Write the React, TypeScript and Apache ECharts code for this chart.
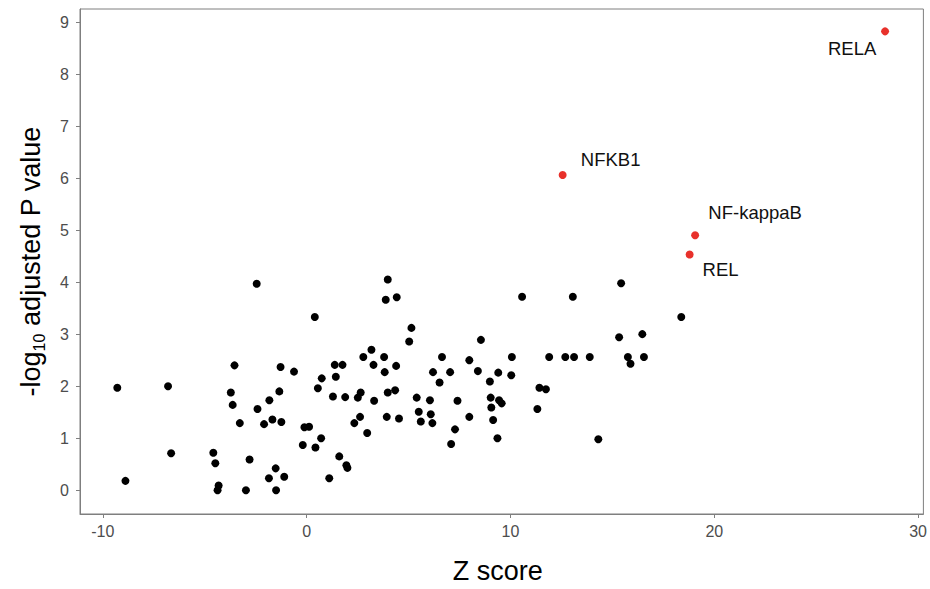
import React, { useEffect, useRef } from "react";
import * as echarts from "echarts";

const blackX = [
  -2.45, -3.54, -1.28, -0.62, -9.29, -6.8, -3.72, -1.34, -1.83, -3.63, -2.41, -3.28, -2.09, -1.68, -1.24,
  -0.11, 0.12, -0.19, -6.65, -4.58, -4.48, -2.8, -1.52, -1.85, -1.1, -8.89, -4.32, -4.37, -2.98, -1.5,
  3.98, 3.88, 4.42, 0.4, 5.14, 5.03, 8.55, 3.18, 2.78, 3.8, 3.28, 4.39, 3.83, 1.38, 1.76, 1.43, 0.74, 0.55,
  1.29, 1.89, 2.51, 2.65, 3.31, 3.98, 4.34, 5.4, 6.05, 6.64, 6.2, 7.04, 6.52, 7.98, 8.4, 9.4, 8.99, 7.4,
  9.03, 9.06, 9.44, 9.57, 9.15, 9.36, 7.98, 7.28, 7.09, 5.5, 5.6, 6.09, 6.17, 3.93, 4.53, 2.62, 2.34, 2.97,
  0.71, 0.43, 1.6, 1.95, 2.0, 1.11, 15.43, 10.57, 13.06, 18.38, 15.33, 16.47, 10.07, 11.9, 12.69, 13.12,
  13.89, 15.76, 15.89, 16.55, 10.04, 11.42, 11.74, 11.32, 14.31,
];
const blackY = [
  3.98, 2.41, 2.38, 2.29, 1.98, 2.01, 1.89, 1.91, 1.74, 1.65, 1.57, 1.3, 1.28, 1.37, 1.32,
  1.22, 1.23, 0.88, 0.72, 0.73, 0.53, 0.6, 0.43, 0.24, 0.27, 0.19, 0.1, 0.01, 0.01, 0.01,
  4.06, 3.67, 3.72, 3.34, 3.13, 2.87, 2.9, 2.71, 2.57, 2.57, 2.42, 2.4, 2.28, 2.42, 2.42, 2.19, 2.16, 1.97,
  1.81, 1.8, 1.79, 1.89, 1.73, 1.89, 1.93, 1.79, 1.74, 2.57, 2.28, 2.28, 2.08, 2.51, 2.3, 2.27, 2.1, 1.73,
  1.79, 1.6, 1.74, 1.68, 1.36, 1.01, 1.42, 1.18, 0.9, 1.52, 1.33, 1.47, 1.3, 1.42, 1.39, 1.42, 1.3, 1.11,
  1.01, 0.83, 0.66, 0.49, 0.44, 0.24, 3.99, 3.73, 3.73, 3.34, 2.95, 3.01, 2.57, 2.57, 2.57, 2.57,
  2.57, 2.57, 2.44, 2.57, 2.22, 1.98, 1.95, 1.57, 0.99,
];

const redNames = ["RELA", "NFKB1", "NF-kappaB", "REL"];
const redX = [28.38, 12.56, 19.06, 18.79];
const redY = [8.83, 6.07, 4.91, 4.54];

const xTicks = [-10, 0, 10, 20, 30];
const yTicks = [0, 1, 2, 3, 4, 5, 6, 7, 8, 9];

const labelOffsets: Record<string, number[]> = {
  RELA: [-33, 17],
  NFKB1: [48, -15],
  "NF-kappaB": [60, -23],
  REL: [31, 15],
};

export default function App() {
  const ref = useRef<HTMLDivElement>(null);
  useEffect(() => {
    if (!ref.current) return;
    const chart = echarts.init(ref.current, null, { renderer: "svg" });
    const font = "Liberation Sans, Arial, sans-serif";
    const axisGray = "#7f7f7f";
    chart.setOption({
      animation: false,
      backgroundColor: "#ffffff",
      grid: {
        left: 80,
        right: 6,
        top: 9,
        bottom: 72,
        show: true,
        borderColor: axisGray,
        borderWidth: 1,
        backgroundColor: "transparent",
      },
      xAxis: {
        type: "value",
        min: -11.12,
        max: 30.26,
        splitLine: { show: false },
        axisLine: { show: true, onZero: false, lineStyle: { color: axisGray, width: 1 } },
        axisTick: { show: true, length: 4, customValues: xTicks, lineStyle: { color: axisGray } },
        axisLabel: {
          customValues: xTicks,
          color: "#4d4d4d",
          fontSize: 16,
          fontFamily: font,
          margin: 9,
        },
        name: "Z score",
        nameLocation: "middle",
        nameGap: 43,
        nameTextStyle: { color: "#000", fontSize: 27, fontFamily: font, padding: [0, 8, 0, 0] },
      },
      yAxis: {
        type: "value",
        min: -0.447,
        max: 9.26,
        splitLine: { show: false },
        axisLine: { show: true, onZero: false, lineStyle: { color: axisGray, width: 1 } },
        axisTick: { show: true, length: 4, customValues: yTicks, lineStyle: { color: axisGray } },
        axisLabel: {
          customValues: yTicks,
          color: "#4d4d4d",
          fontSize: 16,
          fontFamily: font,
          margin: 11,
        },
        name: "{a|-log}{b|10}{a| adjusted P value}",
        nameLocation: "middle",
        nameGap: 33,
        nameTextStyle: {
          color: "#000",
          fontFamily: font,
          rich: {
            a: { fontSize: 27, fontFamily: font, color: "#000", lineHeight: 32, verticalAlign: "middle" },
            b: { fontSize: 16, fontFamily: font, color: "#000", lineHeight: 32, verticalAlign: "bottom" },
          },
        },
      },
      series: [
        {
          type: "scatter",
          symbolSize: 8,
          itemStyle: { color: "#000000", opacity: 1 },
          data: blackX.map((x, i) => [x, blackY[i]]),
          z: 2,
        },
        {
          type: "scatter",
          symbolSize: 8,
          itemStyle: { color: "#e8312b", opacity: 1 },
          z: 3,
          data: redX.map((x, i) => ({
            value: [x, redY[i]],
            name: redNames[i],
            label: {
              show: true,
              position: "inside",
              offset: labelOffsets[redNames[i]],
              formatter: redNames[i],
              color: "#111111",
              opacity: 1,
              fontSize: 18.5,
              fontFamily: font,
            },
          })),
        },
      ],
    });
    return () => chart.dispose();
  }, []);
  return (
    <div
      ref={ref}
      style={{ position: "fixed", left: 0, top: 0, width: 930, height: 589, background: "#fff" }}
    />
  );
}
